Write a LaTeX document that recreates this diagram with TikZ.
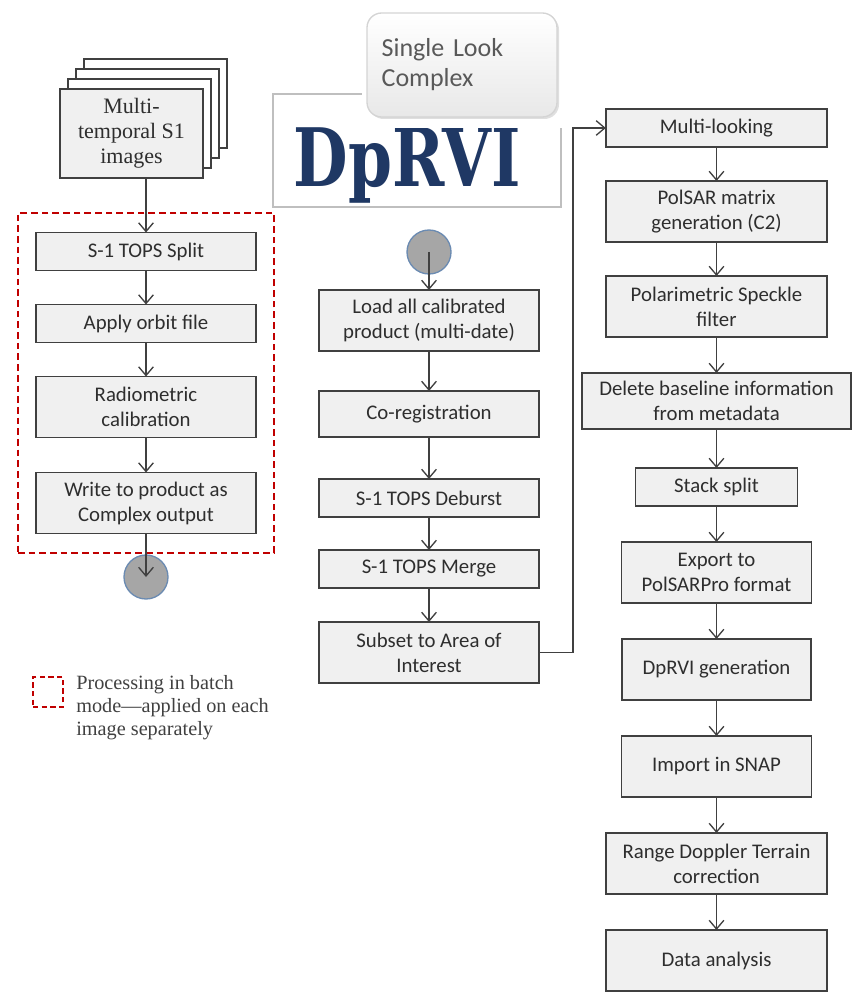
\documentclass[tikz,border=0pt]{standalone}
\usepackage{graphicx}
\usepackage{fontspec}
\setsansfont{Carlito}
\newfontfamily\serifface{Liberation Serif}
\newfontfamily\titleface{DejaVu Serif}
\usetikzlibrary{positioning,arrows.meta,shadows,fit}
\definecolor{boxfill}{HTML}{F0F0F0}
\definecolor{boxline}{HTML}{404040}
\definecolor{txtgray}{HTML}{2E2E2E}
\definecolor{batchred}{HTML}{C00000}
\definecolor{navy}{HTML}{1F3864}
\definecolor{hubfill}{HTML}{A6A6A6}
\definecolor{hubline}{HTML}{6B8BB2}
\definecolor{titlegray}{HTML}{BFBFBF}
\definecolor{slcline}{HTML}{D4D4D4}
\tikzset{proc/.style={draw=boxline, fill=boxfill, line width=1.1pt, text=txtgray, align=center, inner sep=0pt, outer sep=0pt,
    font=\sffamily\fontsize{15.6}{18.75}\selectfont, minimum width=165pt, minimum height=28.5pt},
  tall/.style={minimum height=45.75pt},
  flow/.style={-{Straight Barb[length=6.5pt, width=11pt]}, draw=boxline, line width=1pt},
  hub/.style={circle, fill=hubfill, draw=hubline, line width=1pt, minimum size=33pt, inner sep=0pt},
  batch/.style={draw=batchred, dashed, dash pattern=on 5pt off 3pt, line width=1.3pt},
  sheet/.style={draw=boxline, line width=1.1pt, minimum width=107.25pt, minimum height=66.75pt, inner sep=0pt, outer sep=0pt},
  slc/.style={draw=slcline, line width=1pt, rounded corners=11pt, top color=white, bottom color=black!9,
    drop shadow={opacity=0.25, shadow xshift=1.5pt, shadow yshift=-1.5pt},
    minimum width=142.5pt, minimum height=78pt, inner xsep=11pt, text width=120.5pt, align=left,
    text=black!65, font=\sffamily\fontsize{19.5}{22.5}\selectfont}}

\begin{document}
\begin{tikzpicture}[x=0.75pt, y=-0.75pt]
    \useasboundingbox (0,0) rectangle (859,994);

    % input stack
    \foreach \k in {3,2,1}
      \node[sheet, fill=white] (sheet\k) at ({131.5+8*\k},{133.5-10*\k}) {};
    \node[sheet, fill=boxfill, text=txtgray, align=center, font=\serifface\fontsize{16.5}{18.75}\selectfont] (stack) at (131.5,133.5) {Multi-\\temporal S1\\images};

    % batch column
    \node[proc] (split) at (146,251.5) {S-1 TOPS Split};
    \node[proc, below=25.5pt of split] (orbit) {Apply orbit file};
    \node[proc, tall, below=25.5pt of orbit] (calib) {Radiometric\\calibration};
    \node[proc, tall, below=26.25pt of calib] (write) {Write to product as\\Complex output};
    \node[batch, fit=(split)(write), inner xsep=13.5pt, inner ysep=14.5pt] (group) {};
    \node[hub] (endhub) at (146,577) {};

    \draw[flow] (stack.south -| split.north) -- (split.north);
    \foreach \a/\b in {split/orbit, orbit/calib, calib/write}
      \draw[flow] (\a.south) -- (\b.north);
    \draw[flow] (write.south) -- (endhub.center);

    % legend
    \node[draw=batchred, dashed, dash pattern=on 4pt off 2.5pt, line width=1.2pt, minimum size=22.5pt, inner sep=0pt] (key) at (48,692) {};
    \node[anchor=west, inner sep=0pt, align=left, text=black!75, font=\serifface\fontsize{15.2}{17.25}\selectfont] (keytext) at (76,708) {Processing in batch\\mode—applied on each\\image separately};

    % title
    \node[draw=titlegray, line width=0.8pt, minimum width=216pt, minimum height=84.75pt, inner sep=0pt] (titlebox) at (417,150.5) {};
    \node[anchor=base, inner sep=0pt, text=navy, font=\titleface\bfseries\fontsize{60.5}{60.5}\selectfont] (title) at (407,187) {\scalebox{0.78}[1]{DpRVI}};
    \fill[white] (362,0) rectangle (567,128);
    \node[slc] (single) at (462,65) {Single Look\\Complex};

    % stack column
    \node[hub] (starthub) at (429,252) {};
    \node[proc, tall] (load) at (429,320.5) {Load all calibrated\\product (multi-date)};
    \node[proc, minimum height=34.5pt, below=30pt of load] (coreg) {Co-registration};
    \node[proc, below=31.5pt of coreg] (deburst) {S-1 TOPS Deburst};
    \node[proc, below=24.75pt of deburst] (merge) {S-1 TOPS Merge};
    \node[proc, tall, below=25.5pt of merge] (subset) {Subset to Area of\\Interest};

    \draw[flow] (starthub.center) -- (load.north);
    \foreach \a/\b in {load/coreg, coreg/deburst, deburst/merge, merge/subset}
      \draw[flow] (\a.south) -- (\b.north);

    % polarimetric column
    \node[proc, minimum width=166pt] (multi) at (716.5,128) {Multi-looking};
    \node[proc, tall, minimum width=166pt, below=25.5pt of multi] (matrix) {PolSAR matrix\\generation (C2)};
    \node[proc, tall, minimum width=166pt, below=25.5pt of matrix] (speckle) {Polarimetric Speckle\\filter};
    \node[proc, minimum width=202pt, minimum height=42pt, below=27pt of speckle] (baseline) {Delete baseline information\\from metadata};
    \node[proc, minimum width=121.5pt, below=29.25pt of baseline] (stacksplit) {Stack split};
    \node[proc, tall, minimum width=142.5pt, below=27pt of stacksplit] (export) {Export to\\PolSARPro format};
    \node[proc, tall, minimum width=142pt, below=27pt of export] (gen) {DpRVI generation};
    \node[proc, tall, minimum width=142.5pt, below=27pt of gen] (import) {Import in SNAP};
    \node[proc, tall, minimum width=166pt, below=27pt of import] (terrain) {Range Doppler Terrain\\correction};
    \node[proc, tall, minimum width=166pt, below=27pt of terrain] (analysis) {Data analysis};

    \draw[flow] (subset.east) -- ++(34,0) |- (multi.west);
    \foreach \a/\b in {multi/matrix, matrix/speckle, speckle/baseline, baseline/stacksplit, stacksplit/export, export/gen, gen/import, import/terrain, terrain/analysis}
      \draw[flow] (\a.south) -- (\b.north);
\end{tikzpicture}
\end{document}
